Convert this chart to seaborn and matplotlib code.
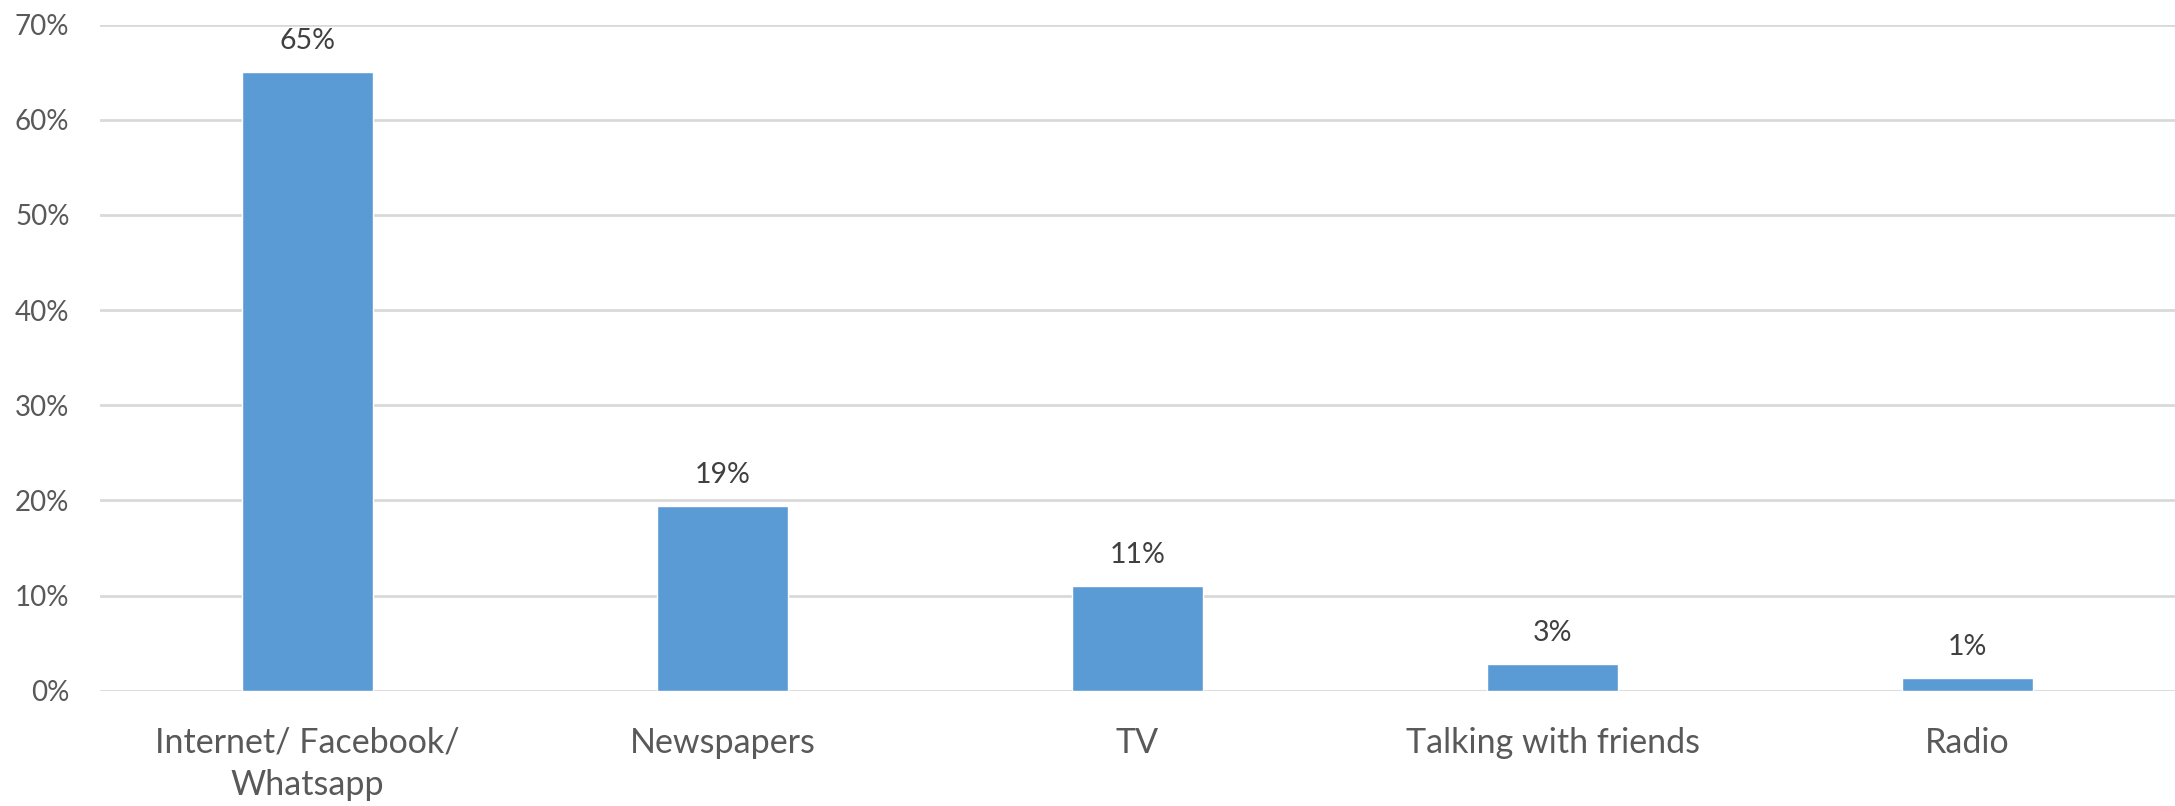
import matplotlib
matplotlib.use("Agg")
import matplotlib.pyplot as plt
import seaborn as sns
import pandas as pd
from matplotlib.ticker import PercentFormatter

categories = ["Internet/ Facebook/\nWhatsapp", "Newspapers", "TV", "Talking with friends", "Radio"]
values = [65.0, 19.4, 11.0, 2.8, 1.3]
labels = ["65%", "19%", "11%", "3%", "1%"]
yticks = [0, 10, 20, 30, 40, 50, 60, 70]

df = pd.DataFrame({"cat": categories, "val": values})

sns.set_theme(style="white")
plt.rcParams["font.family"] = ["Lato", "DejaVu Sans"]

fig = plt.figure(figsize=(21.75, 8.06), dpi=100)
ax = fig.add_axes([0.046, 0.143, 0.954, 0.8264])

sns.barplot(data=df, x="cat", y="val", color="#5B9BD5", saturation=1,
            width=0.314, ax=ax, zorder=3)

ax.set_xlim(-0.5, 4.5)
ax.set_ylim(0, 70)
ax.set_yticks(yticks)
ax.yaxis.set_major_formatter(PercentFormatter(decimals=0))
ax.grid(axis="y", color="#D9D9D9", linewidth=2, zorder=0)
ax.set_axisbelow(True)
for s in ax.spines.values():
    s.set_visible(False)
ax.set_xlabel("")
ax.set_ylabel("")
ax.tick_params(axis="y", length=0, pad=22, labelsize=20, labelcolor="#595959")
ax.tick_params(axis="x", length=0, pad=26, labelsize=24.5, labelcolor="#595959")
for t in ax.get_xticklabels():
    t.set_linespacing(1.4)

for i, (v, lab) in enumerate(zip(values, labels)):
    ax.annotate(lab, (i, v), xytext=(0, 13), textcoords="offset points",
                ha="center", va="bottom", fontsize=20.5, color="#404040")

fig.savefig("out.png", dpi=100, facecolor="white")
